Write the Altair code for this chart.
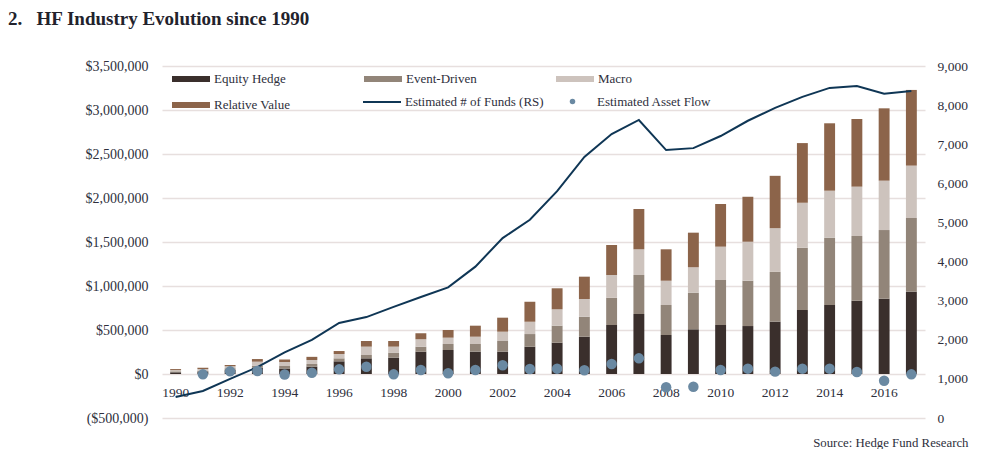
import altair as alt
import pandas as pd

years = list(range(1990, 2018))
equity_hedge = [19, 27, 45, 72, 62, 84, 144, 178, 186, 254, 273, 254, 254, 310, 356, 424,
                557, 682, 443, 508, 557, 545, 595, 727, 784, 833, 856, 936]
event_driven = [11, 11, 19, 23, 28, 30, 34, 38, 57, 57, 68, 87, 121, 144, 193, 227,
                310, 443, 341, 416, 511, 515, 565, 708, 765, 735, 780, 837]
macro = [15, 19, 23, 45, 45, 45, 49, 95, 68, 83, 72, 83, 106, 140, 186, 201,
         258, 292, 276, 289, 379, 443, 497, 511, 534, 561, 561, 595]
relative_value = [11, 15, 15, 30, 30, 36, 34, 64, 64, 68, 87, 125, 159, 227, 239, 254,
                  341, 458, 357, 393, 485, 511, 595, 678, 766, 769, 822, 860]
num_funds = [537, 690, 1000, 1300, 1680, 1995, 2430, 2580, 2840, 3095, 3340, 3870, 4600, 5070,
             5800, 6675, 7260, 7620, 6850, 6900, 7210, 7600, 7930, 8210, 8440, 8490, 8290, 8360]
asset_flow = [None, -4, 30, 34, -5, 14, 53, 83, -4, 45, 8, 45, 99, 57, 61, 42,
              114, 178, -151, -144, 45, 61, 27, 61, 61, 23, -76, -4]

strategies = ["Equity Hedge", "Event-Driven", "Macro", "Relative Value"]
strategy_colors = ["#3a2f2c", "#928579", "#cdc3bd", "#8c644a"]
line_label = "Estimated # of Funds (RS)"
dot_label = "Estimated Asset Flow"
left_ticks = [-500000, 0, 500000, 1000000, 1500000, 2000000, 2500000, 3000000, 3500000]
right_ticks = [0, 1000, 2000, 3000, 4000, 5000, 6000, 7000, 8000, 9000]
year_labels = list(range(1990, 2017, 2))

FONT = "Liberation Serif"
TXT = "#2e2f3c"
NAVY = "#0f3655"
DOT = "#6a89a2"
GRID = "#e7dfde"

rows = []
for i, y in enumerate(years):
    for k, (name, series) in enumerate(zip(strategies, [equity_hedge, event_driven, macro, relative_value])):
        rows.append({"year": y, "strategy": name, "value": series[i] * 1000, "order": k})
bars_df = pd.DataFrame(rows)
line_df = pd.DataFrame({"year": years, "funds": num_funds, "series": line_label})
flow_df = pd.DataFrame({"year": years, "flow": [None if v is None else v * 1000 for v in asset_flow],
                        "series": dot_label}).dropna()

bar_path = "M-1,-0.16L1,-0.16L1,0.16L-1,0.16Z"

x_enc = alt.X(
    "year:O",
    scale=alt.Scale(paddingInner=0.6, paddingOuter=0.3),
    axis=alt.Axis(values=year_labels, labelAngle=0, ticks=False, domain=False, grid=False,
                  offset=-44, labelPadding=11, labelFont=FONT, labelFontSize=13.5, labelColor=TXT,
                  title="Source: Hedge Fund Research", titleX=806, titleY=68, titleAlign="right",
                  titleBaseline="middle", titleFont=FONT, titleFontSize=12.8, titleFontWeight="normal",
                  titleColor=TXT),
)

bars = alt.Chart(bars_df).mark_bar().encode(
    x=x_enc,
    y=alt.Y("value:Q", stack="zero", scale=alt.Scale(domain=[-500000, 3500000]),
            axis=alt.Axis(values=left_ticks, grid=True, gridColor=GRID, gridWidth=1.5, ticks=False,
                          domain=False, labelPadding=14, title=None, labelFontSize=14,
                          labelExpr="datum.value < 0 ? '($' + format(-datum.value, ',') + ')' : '$' + format(datum.value, ',')")),
    color=alt.Color("strategy:N", scale=alt.Scale(domain=strategies, range=strategy_colors),
                    legend=alt.Legend(orient="none", legendX=10, legendY=-6, direction="horizontal",
                                      columns=3, title=None, symbolType=bar_path, symbolSize=1444,
                                      symbolStrokeWidth=0, labelOffset=4, gridAlign="all",
                                      columnPadding=73, rowPadding=-2, padding=0)),
    order=alt.Order("order:Q"),
)

line = alt.Chart(line_df).mark_line(strokeWidth=2).encode(
    x=alt.X("year:O"),
    y=alt.Y("funds:Q", scale=alt.Scale(domain=[0, 9000]),
            axis=alt.Axis(orient="right", values=right_ticks, format=",d", grid=False, ticks=False,
                          domain=False, labelPadding=12, title=None)),
    stroke=alt.Stroke("series:N", scale=alt.Scale(domain=[line_label], range=[NAVY]),
                      legend=alt.Legend(orient="none", legendX=200, legendY=16, title=None,
                                        symbolType="stroke", symbolSize=1444, symbolStrokeWidth=2,
                                        labelOffset=3, padding=0)),
)

points = alt.Chart(flow_df).mark_point(filled=True, size=110, opacity=1, color=DOT).encode(
    x=alt.X("year:O"),
    y=alt.Y("flow:Q", scale=alt.Scale(domain=[-500000, 3500000]), axis=None),
    shape=alt.Shape("series:N", scale=alt.Scale(domain=[dot_label], range=["circle"]),
                    legend=alt.Legend(orient="none", legendX=404, legendY=29, title=None,
                                      symbolSize=30, symbolFillColor=DOT, symbolStrokeWidth=0,
                                      symbolOpacity=1, labelOffset=18, padding=0)),
)

chart = alt.layer(bars, line, points).resolve_scale(y="independent").properties(
    width=763, height=352,
    padding={"left": 154, "top": 58, "right": 59, "bottom": 31},
    autosize=alt.AutoSizeParams(type="none"),
    title=alt.Title("2.\u00a0\u00a0\u00a0HF Industry Evolution since 1990", anchor="start", frame="group",
                    dx=-154, offset=30, font=FONT, fontSize=19, fontWeight="bold", color="#22222c"),
).configure_view(stroke=None).configure_axis(
    labelFont=FONT, labelFontSize=13.5, labelColor=TXT
).configure_legend(
    labelFont=FONT, labelFontSize=13, labelColor=TXT
)

chart.save("out.html", embed_options={"renderer": "svg", "actions": False})
